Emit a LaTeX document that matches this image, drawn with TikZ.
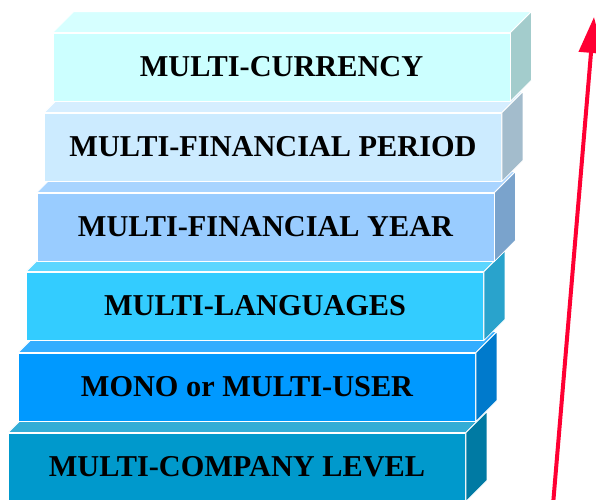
\documentclass[tikz,border=0pt]{standalone}
\usepackage{fontspec}
\setmainfont{Liberation Serif}
\usetikzlibrary{arrows.meta}
\definecolor{f1}{HTML}{CCFFFF}\definecolor{t1}{HTML}{D6FFFF}\definecolor{s1}{HTML}{A3CCCC}
\definecolor{f2}{HTML}{CCEBFF}\definecolor{t2}{HTML}{D6EEFF}\definecolor{s2}{HTML}{A3BCCC}
\definecolor{f3}{HTML}{99CCFF}\definecolor{t3}{HTML}{A8D4FF}\definecolor{s3}{HTML}{7AA3CC}
\definecolor{f4}{HTML}{33CCFF}\definecolor{t4}{HTML}{5CD6FF}\definecolor{s4}{HTML}{29A3CC}
\definecolor{f5}{HTML}{0099FF}\definecolor{t5}{HTML}{33ADFF}\definecolor{s5}{HTML}{007ACC}
\definecolor{f6}{HTML}{0099CC}\definecolor{t6}{HTML}{33ADD6}\definecolor{s6}{HTML}{007AA3}
\definecolor{arrowred}{HTML}{FF0033}
\tikzset{
  slab/.style={draw=white, line width=0.8pt, minimum width=457pt, minimum height=68pt,
    inner sep=0pt, font=\fontsize{30.3}{33}\selectfont\bfseries, text=black},
  face/.style={draw=white, line width=0.8pt},
  bigarrow/.style={draw=arrowred, line width=4pt, -{Triangle[length=36pt,width=24pt]}}
}
\newcommand{\slabsides}[3]{%
  \filldraw[face, fill=#2] (#1.north west) -- ++(21,-21) -- ([shift={(21,-21)}]#1.north east) -- (#1.north east) -- cycle;
  \filldraw[face, fill=#3] (#1.north east) -- ++(21,-21) -- ([shift={(21,-21)}]#1.south east) -- (#1.south east) -- cycle;
}
\begin{document}
\begin{tikzpicture}[x=1pt,y=-1pt]
\useasboundingbox (0,0) rectangle (596,499);
\clip (0,0) rectangle (596,499);
% bottom to top
\node[slab, fill=f6] (b6) at (237,467) {MULTI-COMPANY LEVEL};
\slabsides{b6}{t6}{s6}
\node[slab, fill=f5] (b5) at (247,387) {MONO or MULTI-USER};
\slabsides{b5}{t5}{s5}
\node[slab, fill=f4] (b4) at (255,306) {MULTI-LANGUAGES};
\slabsides{b4}{t4}{s4}
\node[slab, fill=f3] (b3) at (265.5,227) {MULTI-FINANCIAL YEAR};
\slabsides{b3}{t3}{s3}
\node[slab, fill=f2] (b2) at (273,147) {MULTI-FINANCIAL PERIOD};
\slabsides{b2}{t2}{s2}
\node[slab, fill=f1] (b1) at (281.5,67) {MULTI-CURRENCY};
\slabsides{b1}{t1}{s1}
\coordinate (ab) at (553,505);
\coordinate (at) at (594,17);
\draw[bigarrow] (ab) -- (at);
\end{tikzpicture}
\end{document}
